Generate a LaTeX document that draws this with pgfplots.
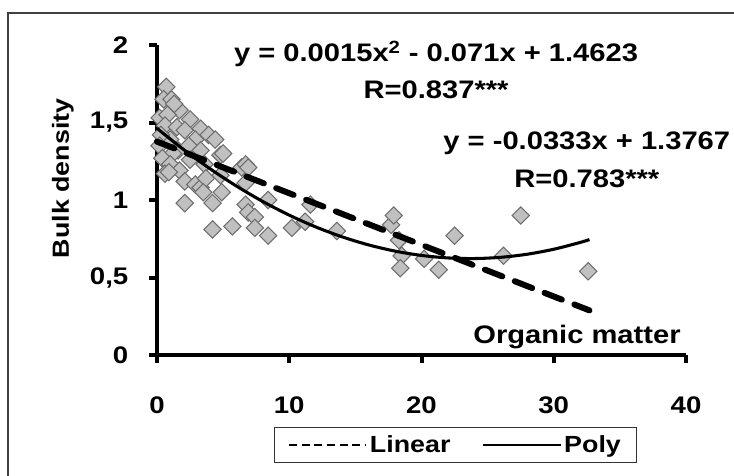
\documentclass[border=0pt]{standalone}
\usepackage{fontspec}
\setmainfont[FakeStretch=1.15]{Liberation Sans}
\usepackage{pgfplots}
\pgfplotsset{compat=1.18}

\definecolor{markfill}{RGB}{192,192,192}
\definecolor{markdraw}{RGB}{110,110,110}

\pgfplotstableread{
x y
0.7 1.73
0.5 1.65
1.1 1.65
1.7 1.58
1.3 1.62
0.2 1.53
0.8 1.55
2.5 1.52
3.3 1.46
3.9 1.42
4.4 1.39
0.6 1.48
1.5 1.47
2.1 1.45
2.9 1.39
1.0 1.39
0.3 1.42
0.2 1.35
1.6 1.32
2.4 1.35
3.3 1.32
4.8 1.29
5.0 1.30
1.2 1.30
0.4 1.27
1.0 1.23
1.7 1.19
2.5 1.26
3.6 1.23
0.6 1.17
0.9 1.18
2.1 1.12
2.9 1.10
3.3 1.08
3.7 1.14
4.8 1.16
6.4 1.21
6.7 1.23
6.9 1.21
6.7 1.11
2.1 0.98
3.5 1.05
4.2 0.98
4.9 1.05
6.7 0.97
6.9 0.92
7.4 0.89
8.4 1.00
4.2 0.81
5.7 0.83
7.4 0.82
8.4 0.77
10.2 0.82
11.2 0.86
11.6 0.97
13.6 0.80
17.7 0.84
17.9 0.90
18.3 0.74
18.5 0.64
18.4 0.56
20.2 0.62
21.3 0.55
22.5 0.77
26.2 0.64
27.5 0.90
32.6 0.54
}\soildata

\begin{document}
\begin{tikzpicture}
\useasboundingbox (-117.75pt,-90pt) rectangle (432.75pt,266.25pt);
% outer frame (only top and left edges visible)
\draw[line width=1.5pt, black!75] (-111.75pt,-95pt) -- (-111.75pt,256.5pt) -- (440pt,256.5pt);
\begin{axis}[
    scale only axis,
    width=396.75pt, height=232.5pt,
    xmin=0, xmax=40, ymin=0, ymax=2,
    xtick={0,10,20,30,40},
    ytick={0,0.5,1,1.5,2},
    axis x line*=bottom, axis y line*=left,
    axis line style={line width=3pt, -},
    tick align=outside,
    major tick length=6pt,
    major tick style={line width=3pt, black},
    /pgf/number format/assume math mode=true,
    /pgf/number format/use comma,
    tick label style={font=\fontsize{18}{21}\selectfont\bfseries},
    xticklabel style={yshift=-22pt},
    yticklabel style={xshift=-12pt},
    ylabel={Bulk density},
    ylabel style={at={(axis description cs:-0.178,0.57)}, rotate=0, anchor=center,
        font=\fontsize{17.5}{21}\selectfont\bfseries},
    xlabel={Organic matter},
    xlabel style={at={(axis description cs:0.794,0.058)}, anchor=center,
        font=\fontsize{19}{22}\selectfont\bfseries},
    legend columns=2,
    legend image code/.code={\draw[#1] (0pt,0pt) -- (58pt,0pt);},
    legend style={at={(0.565,-0.29)}, anchor=center, draw=black!80, line width=0.8pt,
        font=\fontsize{17.5}{21}\selectfont\bfseries,
        inner xsep=10pt, inner ysep=4pt,
        /tikz/every even column/.append style={column sep=22pt}},
    clip=false,
    clip marker paths=true,
]
\addplot[only marks, mark=square*, mark size=4.6pt,
    mark options={rotate=45, fill=markfill, draw=markdraw, line width=0.8pt}, forget plot]
    table[x=x, y=y] {\soildata};

% linear trend y = -0.0333x + 1.3767
\addplot[black, line width=4.5pt, dash pattern=on 14pt off 10pt, line cap=round, forget plot]
    coordinates {(0,1.3767) (32.7,0.2878)};

% polynomial trend y = 0.0015x^2 - 0.071x + 1.4623
\addplot[black, line width=2.3pt, smooth, forget plot] coordinates {
    (0,1.4623) (2,1.3263) (4,1.2023) (6,1.0903) (8,0.9903) (10,0.9023)
    (12,0.8263) (14,0.7623) (16,0.7103) (18,0.6703) (20,0.6423) (22,0.6263)
    (24,0.6223) (26,0.6303) (28,0.6503) (30,0.6823) (32,0.7263) (32.7,0.7445)
};

\addlegendimage{black, line width=1.3pt, dash pattern=on 6pt off 3.5pt}
\addlegendentry{Linear}
\addlegendimage{black, line width=1.3pt}
\addlegendentry{Poly}

\node[align=center, font=\fontsize{19}{28}\selectfont\bfseries] at (axis cs:21.1,1.84)
    {y = 0.0015x\textsuperscript{2} - 0.071x + 1.4623\\R=0.837***};
\node[align=center, font=\fontsize{19}{28}\selectfont\bfseries] at (axis cs:32.5,1.26)
    {y = -0.0333x + 1.3767\\R=0.783***};
\end{axis}
\end{tikzpicture}
\end{document}
